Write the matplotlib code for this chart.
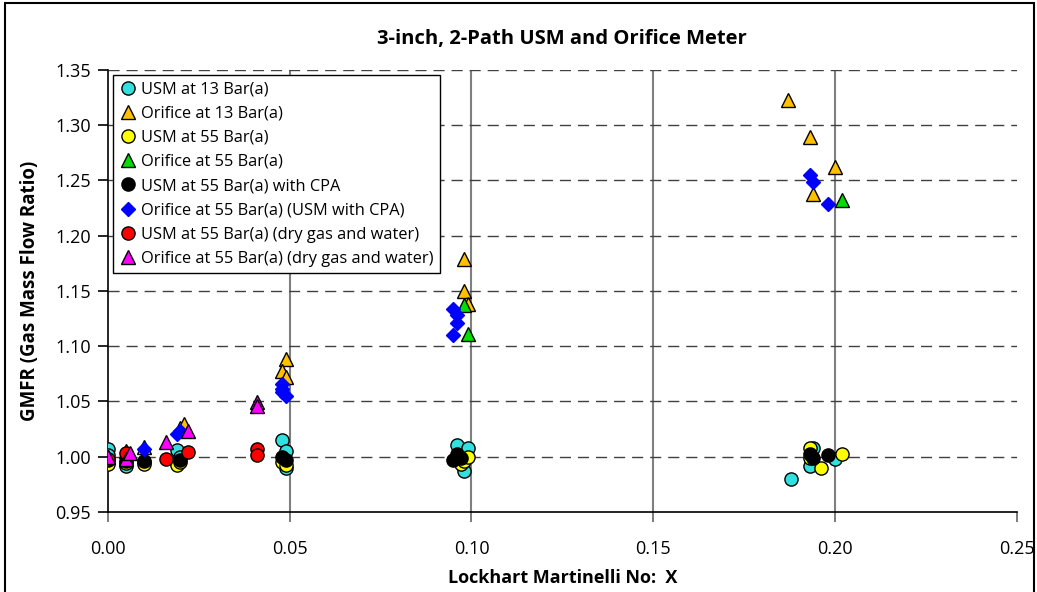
import matplotlib.pyplot as plt
from matplotlib.patches import Rectangle
from matplotlib.ticker import MultipleLocator

plt.rcParams['font.family'] = ['Open Sans', 'DejaVu Sans']

# Lockhart Martinelli X and GMFR for each test series
usm13_x = [0.000, 0.000, 0.005, 0.010, 0.019, 0.020, 0.048, 0.049, 0.049, 0.096, 0.099, 0.098, 0.188, 0.193, 0.194, 0.200]
usm13_y = [1.007, 1.001, 0.991, 0.995, 1.006, 1.000, 1.015, 1.005, 0.990, 1.010, 1.008, 0.987, 0.980, 0.991, 1.008, 0.998]

orf13_x = [0.000, 0.005, 0.010, 0.020, 0.021, 0.049, 0.048, 0.049, 0.098, 0.098, 0.099, 0.187, 0.193, 0.200, 0.194]
orf13_y = [1.000, 1.005, 1.009, 1.026, 1.029, 1.088, 1.077, 1.072, 1.179, 1.150, 1.138, 1.323, 1.289, 1.262, 1.238]

usm55_x = [0.000, 0.005, 0.010, 0.019, 0.020, 0.048, 0.049, 0.097, 0.098, 0.099, 0.193, 0.193, 0.196, 0.202]
usm55_y = [0.993, 0.994, 0.993, 0.992, 0.995, 0.995, 0.992, 0.993, 0.996, 1.000, 1.008, 0.999, 0.990, 1.002]

orf55_x = [0.098, 0.099, 0.202]
orf55_y = [1.137, 1.111, 1.232]

cpa_x = [0.000, 0.005, 0.010, 0.020, 0.048, 0.049, 0.095, 0.096, 0.097, 0.193, 0.194, 0.198]
cpa_y = [0.997, 0.996, 0.996, 0.997, 1.000, 0.997, 0.997, 1.002, 0.999, 1.002, 0.999, 1.001]

orfcpa_x = [0.010, 0.019, 0.020, 0.048, 0.048, 0.048, 0.049, 0.095, 0.096, 0.096, 0.095, 0.193, 0.194, 0.198]
orfcpa_y = [1.007, 1.020, 1.023, 1.066, 1.061, 1.058, 1.055, 1.134, 1.128, 1.121, 1.110, 1.255, 1.249, 1.229]

wet_x = [0.000, 0.005, 0.016, 0.022, 0.041, 0.041]
wet_y = [0.998, 1.003, 0.998, 1.004, 1.007, 1.001]

orfwet_x = [0.000, 0.005, 0.006, 0.016, 0.022, 0.041, 0.041]
orfwet_y = [1.000, 0.998, 1.003, 1.013, 1.023, 1.049, 1.046]

series = [
    (usm13_x, usm13_y, 'o', '#33E0E0', 'k', 'USM at 13 Bar(a)'),
    (orf13_x, orf13_y, '^', '#FFC000', 'k', 'Orifice at 13 Bar(a)'),
    (usm55_x, usm55_y, 'o', '#FFFF00', 'k', 'USM at 55 Bar(a)'),
    (orf55_x, orf55_y, '^', '#00DD00', 'k', 'Orifice at 55 Bar(a)'),
    (cpa_x, cpa_y, 'o', '#000000', '#000000', 'USM at 55 Bar(a) with CPA'),
    (orfcpa_x, orfcpa_y, 'D', '#0000FF', '#0000FF', 'Orifice at 55 Bar(a) (USM with CPA)'),
    (wet_x, wet_y, 'o', '#FF0000', 'k', 'USM at 55 Bar(a) (dry gas and water)'),
    (orfwet_x, orfwet_y, '^', '#FF00FF', 'k', 'Orifice at 55 Bar(a) (dry gas and water)'),
]

fig = plt.figure(figsize=(10.37, 5.92), dpi=100)
ax = fig.add_axes([0.1039, 0.1356, 0.8768, 0.7462])

for xs, ys, m, fc, ec, lab in series:
    ms = 7.5 if m == 'D' else 9.5
    ax.plot(xs, ys, linestyle='none', marker=m, markersize=ms,
            markerfacecolor=fc, markeredgecolor=ec, markeredgewidth=1,
            label=lab, zorder=3)

ax.set_xlim(0, 0.25)
ax.set_ylim(0.95, 1.35)
ax.xaxis.set_major_locator(MultipleLocator(0.05))
ax.yaxis.set_major_locator(MultipleLocator(0.05))
ax.xaxis.set_major_formatter(plt.FuncFormatter(lambda v, p: f'{v:.2f}'))
ax.yaxis.set_major_formatter(plt.FuncFormatter(lambda v, p: f'{v:.2f}'))

# vertical grid solid grey, horizontal grid dashed
for xv in [0.05, 0.10, 0.15, 0.20]:
    ax.axvline(xv, color='#7f7f7f', linewidth=1.5, zorder=1)
for yv in [1.00, 1.05, 1.10, 1.15, 1.20, 1.25, 1.30, 1.35]:
    ax.axhline(yv, color='#404040', linewidth=1, dashes=(8, 5), zorder=1)

for s in ['top', 'right']:
    ax.spines[s].set_visible(False)
ax.spines['left'].set_linewidth(1.2)
ax.spines['bottom'].set_linewidth(1.2)
ax.tick_params(axis='both', direction='out', length=7, width=1.2, labelsize=13, pad=5)
ax.tick_params(axis='x', colors='#666666', labelcolor='black', pad=13)

ax.set_title('3-inch, 2-Path USM and Orifice Meter', fontsize=14.5, fontweight='bold', pad=19)
ax.set_xlabel('Lockhart Martinelli No:  X', fontsize=13, fontweight='bold', labelpad=8)
ax.set_ylabel('GMFR (Gas Mass Flow Ratio)', fontsize=13.5, fontweight='bold', labelpad=11)

leg = ax.legend(loc='upper left', bbox_to_anchor=(0.006, 0.989), fontsize=11.8,
                frameon=True, fancybox=False, edgecolor='black', framealpha=1,
                handletextpad=0.3, borderpad=0.4, labelspacing=0.5, handlelength=1.0,
                borderaxespad=0)
leg.get_frame().set_linewidth(1.0)
leg.set_zorder(5)

fig.patches.append(Rectangle((0.005, -0.05), 0.992, 1.045, transform=fig.transFigure,
                             fill=False, edgecolor='black', linewidth=1.5))

fig.savefig('out.png', dpi=100)
